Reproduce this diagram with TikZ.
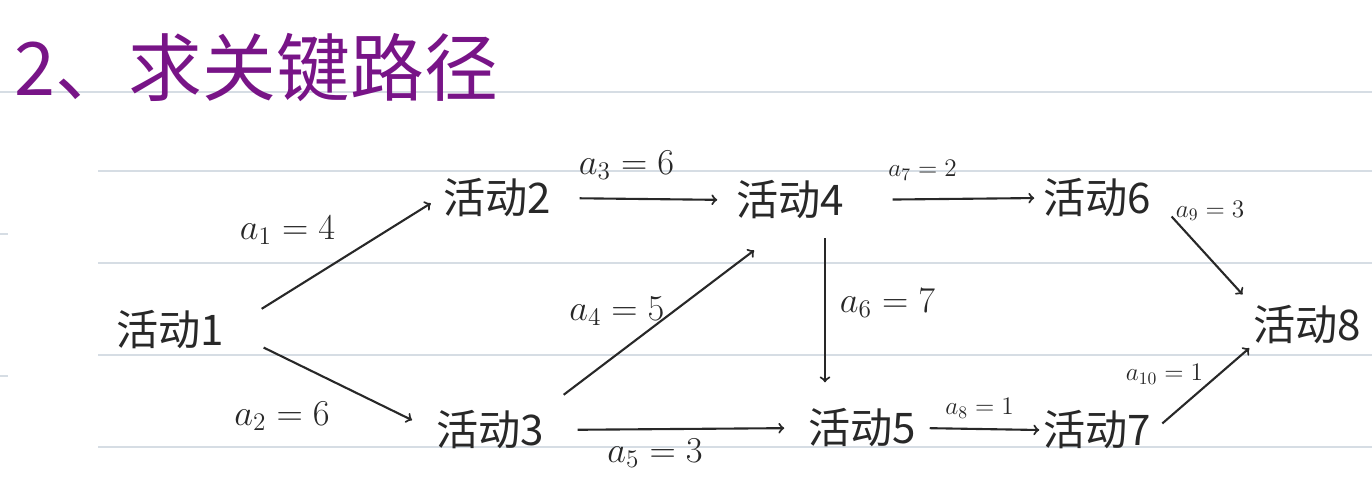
\documentclass[tikz,border=0pt]{standalone}
\usepackage{amsmath}
\usepackage{fontspec}
\newfontfamily\cjk{Noto Sans CJK SC}
\usetikzlibrary{arrows}
\definecolor{titlepurple}{RGB}{120,20,135}
\definecolor{ruling}{RGB}{214,221,228}
\definecolor{ink}{RGB}{40,40,40}
\tikzset{
  act/.style={inner sep=2pt, text=ink, font=\cjk\fontsize{24}{28}\selectfont},
  link/.style={->, >=to, draw=ink, line width=1.2pt},
  lbl/.style={text=ink, font=\fontsize{20}{24}\selectfont},
  slbl/.style={text=ink, font=\fontsize{14}{17}\selectfont},
}

\begin{document}
\begin{tikzpicture}[x=0.02cm, y=-0.02cm]
\useasboundingbox (0,0) rectangle (1372,477);

% paper ruling
\draw[ruling, line width=0.8pt] (0,92) -- (1372,92);
\foreach \y in {171,263,355,447}
  \draw[ruling, line width=0.8pt] (98,\y) -- (1372,\y);
\foreach \y in {234,376}
  \draw[ruling, line width=0.8pt] (0,\y) -- (8,\y);

% heading
\node[anchor=west, text=titlepurple, font=\cjk\fontsize{42}{48}\selectfont] (head) at (8,68) {2、求关键路径};

% activities
\node[act] (v1) at (170,330) {活动1};
\node[act] (v2) at (497,198) {活动2};
\node[act] (v3) at (490,430) {活动3};
\node[act] (v4) at (790,200) {活动4};
\node[act] (v5) at (862,428) {活动5};
\node[act] (v6) at (1097,198) {活动6};
\node[act] (v7) at (1097,430) {活动7};
\node[act] (v8) at (1307,325) {活动8};

% arrows with durations
\draw[link, shorten <=0.8cm, shorten >=0.2cm] (v1.east) -- (v2.west)
  node[lbl, midway, xshift=-0.92cm, yshift=0.68cm] (w1) {$a_1=4$};
\draw[link, shorten <=0.8cm, shorten >=0.45cm] (v1.east) -- (v3.west)
  node[lbl, midway, xshift=-0.96cm, yshift=-0.72cm] (w2) {$a_2=6$};
\draw[link, shorten <=0.5cm, shorten >=0.3cm] (v2.east) -- (v4.west)
  node[lbl, midway, xshift=-0.34cm, yshift=0.68cm] (w3) {$a_3=6$};
\draw[link, shorten <=0.4cm, shorten >=0.9cm] (v3.north east) -- (v4.south)
  node[lbl, midway, xshift=-1.04cm, yshift=0.08cm] (w4) {$a_4=5$};
\draw[link, shorten <=0.6cm, shorten >=0.4cm] (v3.east) -- (v5.west)
  node[lbl, midway, xshift=-0.42cm, yshift=-0.48cm] (w5) {$a_5=3$};
\draw[link, shorten <=0.3cm, shorten >=0.45cm] ([xshift=0.7cm]v4.south) -- ([xshift=0.7cm]v4.south |- v5.north)
  node[lbl, midway, xshift=1.25cm, yshift=0.22cm] (w6) {$a_6=7$};
\draw[link, shorten <=0.9cm, shorten >=0.1cm] (v4.east) -- (v6.west)
  node[slbl, midway, xshift=-0.42cm, yshift=0.58cm] (w7) {$a_7=2$};
\draw[link, shorten <=0.2cm] (v5.east) -- (v7.west)
  node[slbl, midway, yshift=0.42cm] (w8) {$a_8=1$};
\draw[link, shorten <=0.5cm, shorten >=0.2cm] (v6.east) -- (v8.north west)
  node[slbl, midway, xshift=0.16cm, yshift=0.78cm] (w9) {$a_9=3$};
\draw[link, shorten <=0.2cm] (v7.east) -- (v8.south west)
  node[slbl, midway, xshift=-0.75cm, yshift=0.3cm] (w10) {$a_{10}=1$};

\end{tikzpicture}
\end{document}
